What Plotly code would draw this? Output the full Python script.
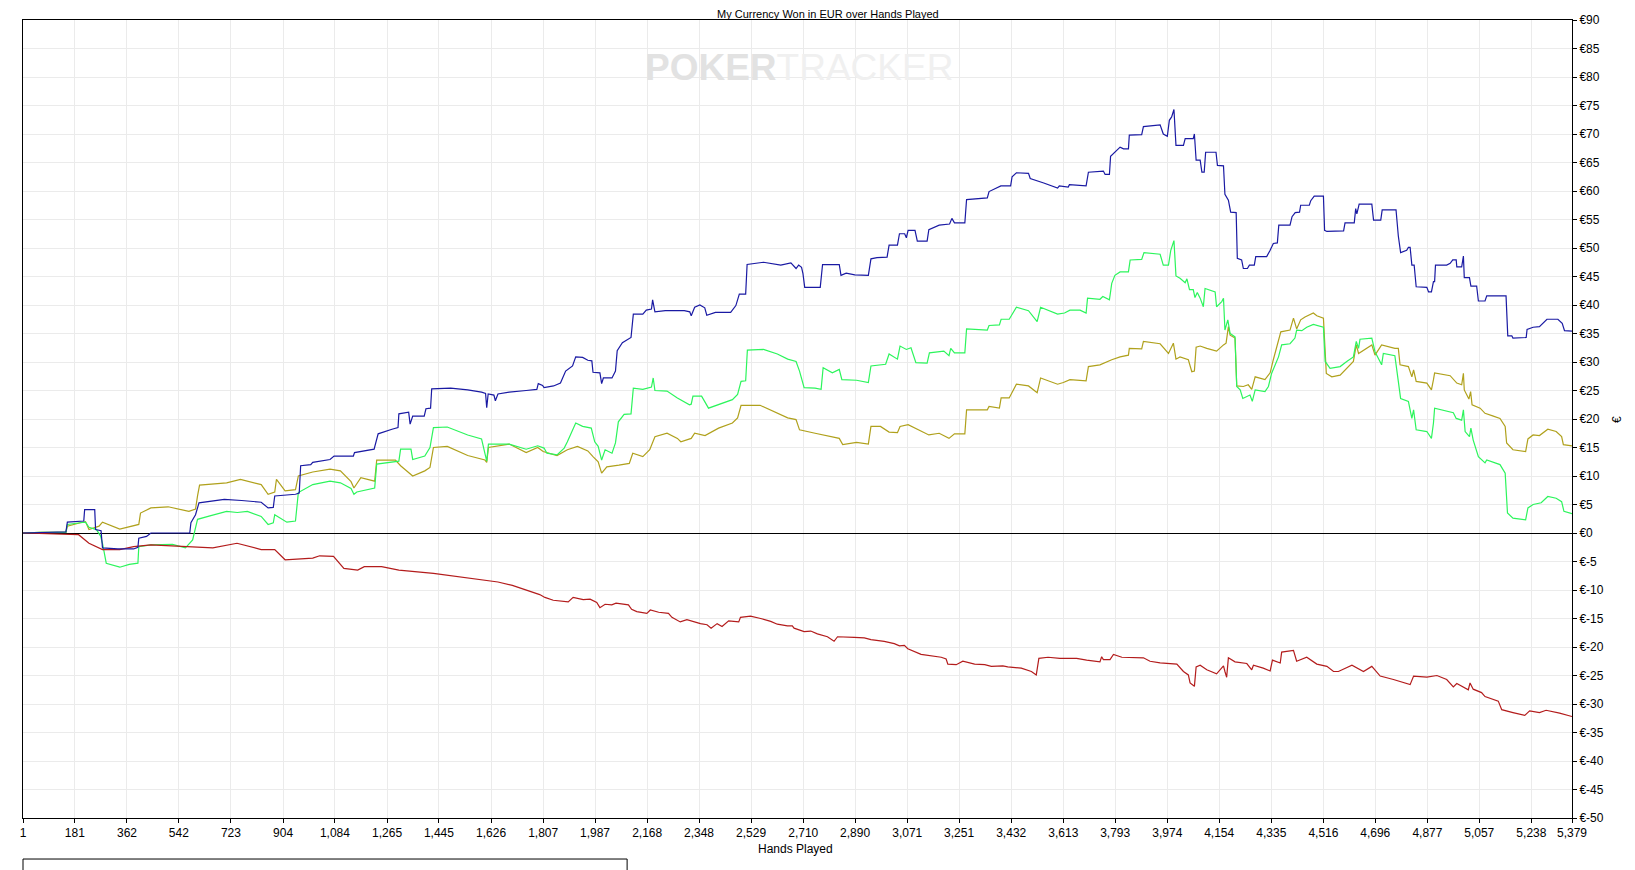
"""
PokerTracker style graph: currency won (EUR) over hands played
"""

import plotly.graph_objects as go

# x ticks (hands played)
x_ticks = [1, 181, 362, 542, 723, 904, 1084, 1265, 1445, 1626, 1807, 1987, 2168, 2348,
           2529, 2710, 2890, 3071, 3251, 3432, 3613, 3793, 3974, 4154, 4335, 4516, 4696,
           4877, 5057, 5238, 5379]
y_ticks = list(range(-50, 95, 5))
y_tick_labels = [f"€{v}" for v in y_ticks]

# net won (blue)
blue_hands = [1, 60, 150, 155, 185, 212, 215, 250, 253, 272, 277, 330, 385, 400, 403, 430, 445, 500, 580, 584, 600, 612, 650, 700, 760, 828, 852, 870, 875, 947, 960, 965, 1000, 1007, 1067, 1081, 1148, 1152, 1220, 1234, 1282, 1303, 1306, 1340, 1345, 1354, 1394, 1400, 1416, 1420, 1486, 1545, 1593, 1607, 1611, 1616, 1636, 1641, 1650, 1689, 1748, 1785, 1790, 1805, 1810, 1843, 1867, 1885, 1909, 1920, 1944, 1962, 1976, 1980, 2004, 2010, 2016, 2046, 2058, 2064, 2082, 2112, 2120, 2153, 2165, 2183, 2187, 2195, 2231, 2297, 2316, 2321, 2333, 2351, 2368, 2375, 2405, 2458, 2476, 2488, 2510, 2515, 2572, 2596, 2632, 2667, 2685, 2694, 2704, 2709, 2715, 2769, 2777, 2835, 2841, 2859, 2889, 2936, 2945, 2966, 3001, 3008, 3037, 3044, 3062, 3068, 3074, 3098, 3106, 3140, 3146, 3182, 3218, 3226, 3235, 3271, 3277, 3349, 3355, 3396, 3430, 3435, 3450, 3492, 3498, 3545, 3593, 3599, 3630, 3634, 3671, 3692, 3700, 3752, 3758, 3773, 3777, 3792, 3810, 3822, 3839, 3842, 3885, 3891, 3949, 3960, 3974, 3981, 3989, 3997, 4004, 4030, 4036, 4064, 4068, 4074, 4088, 4094, 4102, 4107, 4143, 4148, 4169, 4174, 4186, 4194, 4213, 4217, 4232, 4238, 4252, 4259, 4276, 4281, 4319, 4331, 4342, 4356, 4361, 4400, 4407, 4418, 4433, 4437, 4467, 4472, 4484, 4516, 4520, 4528, 4586, 4591, 4623, 4628, 4632, 4640, 4684, 4690, 4715, 4720, 4768, 4776, 4784, 4805, 4811, 4817, 4823, 4831, 4838, 4875, 4881, 4891, 4898, 4902, 4905, 4944, 4956, 4965, 4977, 4979, 4996, 5002, 5005, 5023, 5028, 5048, 5054, 5077, 5083, 5150, 5156, 5170, 5174, 5220, 5223, 5244, 5266, 5292, 5330, 5345, 5353, 5379]
blue_won = [0, 0.1, 0.2, 1.9, 2.0, 2.1, 4.1, 4.1, 0.6, 0.4, -2.6, -2.8, -2.8, -2.5, -0.9, -0.6, 0, 0, 0, 1.8, 3.2, 5.3, 5.6, 5.9, 5.7, 5.4, 4.4, 4.5, 6.5, 6.8, 7.0, 11.8, 12.0, 12.4, 12.9, 13.5, 13.5, 14.1, 14.7, 17.4, 18.2, 18.5, 20.9, 21.2, 19.1, 20.5, 20.5, 21.8, 21.9, 25.3, 25.4, 25.1, 24.7, 24.5, 22.0, 24.4, 24.2, 23.2, 24.4, 24.7, 25.0, 25.2, 26.2, 25.9, 25.5, 25.8, 26.3, 28.4, 29.3, 30.9, 30.8, 30.3, 30.2, 28.2, 28.1, 26.2, 27.2, 27.2, 28.4, 32.0, 33.4, 34.3, 38.4, 38.4, 39.1, 39.3, 40.9, 38.8, 39.0, 39.0, 38.8, 38.1, 39.6, 40.0, 39.5, 38.2, 38.7, 38.7, 39.9, 41.9, 41.9, 47.1, 47.5, 47.3, 47.0, 47.4, 46.4, 47.0, 46.6, 45.5, 43.1, 43.1, 47.1, 47.1, 45.2, 45.6, 45.3, 45.2, 48.1, 48.3, 48.4, 50.5, 50.5, 52.5, 52.5, 51.8, 53.1, 53.1, 51.2, 51.2, 53.2, 54.0, 54.2, 55.2, 54.4, 54.4, 58.5, 58.8, 59.9, 60.9, 60.9, 62.5, 63.2, 63.1, 62.2, 61.4, 60.5, 60.9, 60.7, 61.1, 61.0, 60.9, 63.3, 63.5, 62.9, 62.9, 66.1, 66.8, 67.7, 67.4, 67.4, 69.8, 69.9, 71.3, 71.6, 70.0, 69.6, 72.4, 73.0, 74.3, 68.0, 68.0, 69.2, 69.2, 70.0, 65.4, 65.4, 63.3, 63.3, 66.8, 66.8, 64.5, 64.4, 59.4, 58.4, 56.3, 56.2, 48.2, 47.9, 46.4, 46.4, 47.0, 47.0, 48.5, 48.5, 49.6, 50.8, 50.9, 54.0, 54.0, 55.5, 56.2, 56.3, 57.5, 57.5, 58.3, 59.1, 59.1, 53.1, 52.9, 53.0, 54.4, 54.4, 56.9, 56.0, 57.7, 57.7, 54.9, 54.9, 56.7, 56.7, 52.1, 49.2, 49.6, 50.1, 50.1, 47.0, 47.0, 43.2, 43.1, 42.3, 42.3, 44.1, 44.1, 47.0, 47.0, 47.3, 47.9, 47.9, 46.7, 46.7, 48.6, 44.8, 44.8, 43.3, 43.3, 40.7, 40.7, 41.6, 41.6, 34.6, 34.6, 34.2, 34.3, 35.7, 36.1, 36.2, 37.5, 37.5, 36.8, 35.5, 35.4]

# green
green_hands = [1, 60, 150, 155, 200, 218, 230, 256, 270, 277, 290, 337, 370, 400, 403, 445, 520, 565, 590, 607, 650, 708, 745, 780, 828, 852, 870, 875, 917, 947, 957, 1007, 1067, 1103, 1140, 1150, 1160, 1222, 1229, 1306, 1312, 1348, 1354, 1396, 1414, 1426, 1474, 1545, 1593, 1611, 1617, 1689, 1748, 1788, 1810, 1820, 1855, 1880, 1891, 1920, 1944, 1974, 1986, 1998, 2010, 2022, 2046, 2058, 2068, 2088, 2112, 2120, 2153, 2183, 2189, 2195, 2237, 2273, 2315, 2321, 2327, 2357, 2381, 2416, 2464, 2482, 2494, 2510, 2516, 2572, 2620, 2656, 2685, 2697, 2713, 2751, 2772, 2779, 2811, 2835, 2844, 2895, 2936, 2945, 2996, 3008, 3037, 3046, 3068, 3084, 3101, 3140, 3148, 3198, 3216, 3222, 3235, 3271, 3277, 3349, 3355, 3391, 3397, 3425, 3450, 3492, 3522, 3534, 3593, 3617, 3636, 3671, 3692, 3697, 3740, 3750, 3773, 3781, 3792, 3810, 3839, 3845, 3885, 3893, 3949, 3960, 3978, 3986, 3997, 4004, 4018, 4036, 4042, 4051, 4064, 4070, 4078, 4088, 4099, 4105, 4140, 4145, 4163, 4169, 4174, 4184, 4192, 4209, 4215, 4227, 4236, 4261, 4269, 4279, 4313, 4325, 4336, 4360, 4371, 4400, 4417, 4423, 4441, 4458, 4481, 4516, 4522, 4539, 4574, 4597, 4620, 4630, 4638, 4643, 4684, 4695, 4718, 4724, 4764, 4776, 4784, 4811, 4823, 4829, 4838, 4875, 4891, 4898, 4902, 4967, 4977, 4996, 5002, 5008, 5023, 5028, 5036, 5054, 5077, 5083, 5129, 5147, 5155, 5174, 5218, 5226, 5244, 5272, 5295, 5324, 5343, 5351, 5379]
green_won = [0, 0.1, 0.1, 1.5, 1.8, 1.9, 1.0, 0.6, -0.5, -1.8, -5.3, -6.0, -5.5, -5.3, -2.4, -2.1, -2.0, -2.6, -1.2, 2.4, 3.0, 3.8, 3.6, 3.8, 2.9, 1.5, 1.8, 3.2, 1.9, 2.1, 7.1, 8.5, 9.1, 8.8, 7.8, 6.8, 7.2, 7.9, 12.1, 12.6, 14.7, 14.7, 12.9, 13.5, 15.0, 18.5, 18.6, 17.2, 16.5, 12.6, 15.6, 15.6, 14.7, 15.3, 14.9, 14.0, 13.7, 14.9, 16.0, 19.3, 18.7, 18.4, 16.0, 15.2, 12.8, 14.6, 14.0, 15.8, 19.5, 20.8, 20.9, 25.4, 25.2, 25.6, 27.2, 25.0, 24.9, 23.7, 22.5, 22.6, 24.0, 24.0, 21.9, 22.5, 23.4, 24.3, 26.6, 26.7, 32.1, 32.2, 31.4, 30.5, 30.1, 28.4, 25.5, 25.4, 25.2, 29.0, 28.1, 28.7, 26.9, 26.8, 26.4, 29.3, 29.6, 31.4, 30.5, 32.8, 32.2, 32.5, 29.9, 29.8, 31.6, 31.9, 31.1, 32.4, 31.6, 31.6, 35.8, 35.6, 36.4, 36.5, 37.5, 37.5, 39.6, 39.0, 37.1, 39.6, 38.4, 38.6, 39.1, 39.1, 38.6, 41.2, 41.0, 41.5, 40.9, 43.8, 45.2, 45.8, 45.8, 47.9, 48.0, 49.2, 48.9, 47.0, 47.0, 49.6, 51.3, 45.1, 44.7, 43.9, 44.6, 42.7, 42.7, 41.3, 42.2, 41.2, 39.7, 42.9, 42.3, 39.7, 40.6, 41.2, 35.6, 37.4, 35.0, 34.4, 25.7, 25.1, 23.6, 24.2, 23.1, 25.1, 24.8, 25.7, 28.0, 30.9, 33.0, 33.2, 34.2, 35.6, 35.5, 36.1, 36.6, 36.1, 30.1, 28.9, 29.2, 30.1, 30.9, 33.6, 32.4, 34.0, 34.2, 31.8, 29.5, 31.5, 31.1, 26.6, 23.6, 23.1, 20.1, 21.6, 18.1, 17.8, 16.6, 19.3, 21.9, 21.1, 20.1, 19.8, 21.6, 17.8, 16.9, 18.4, 16.3, 13.4, 12.3, 12.8, 12.0, 10.5, 3.5, 2.6, 2.3, 4.4, 5.0, 5.3, 6.4, 6.1, 5.5, 3.8, 3.4]

# olive
olive_hands = [1, 60, 150, 155, 200, 218, 230, 265, 277, 337, 403, 409, 445, 505, 577, 600, 607, 614, 708, 756, 828, 852, 875, 881, 911, 947, 957, 1007, 1067, 1103, 1140, 1150, 1174, 1222, 1229, 1294, 1312, 1340, 1354, 1396, 1414, 1426, 1474, 1545, 1605, 1611, 1617, 1689, 1748, 1788, 1807, 1855, 1891, 1926, 1962, 1980, 1998, 2010, 2028, 2070, 2106, 2118, 2153, 2177, 2195, 2237, 2273, 2285, 2321, 2333, 2369, 2416, 2464, 2482, 2494, 2560, 2596, 2656, 2685, 2697, 2751, 2811, 2835, 2847, 2895, 2936, 2945, 2978, 3008, 3037, 3046, 3074, 3098, 3146, 3182, 3216, 3235, 3271, 3277, 3349, 3355, 3391, 3397, 3425, 3450, 3492, 3522, 3534, 3593, 3613, 3636, 3692, 3700, 3740, 3781, 3810, 3839, 3842, 3885, 3891, 3949, 3978, 3995, 4004, 4018, 4047, 4059, 4068, 4074, 4088, 4111, 4145, 4169, 4178, 4186, 4192, 4209, 4215, 4238, 4255, 4267, 4279, 4313, 4331, 4342, 4360, 4368, 4400, 4412, 4423, 4437, 4452, 4481, 4493, 4516, 4526, 4545, 4574, 4591, 4620, 4630, 4638, 4684, 4695, 4718, 4764, 4776, 4782, 4811, 4823, 4829, 4838, 4875, 4891, 4898, 4902, 4956, 4979, 4996, 5002, 5005, 5021, 5027, 5032, 5060, 5077, 5106, 5129, 5147, 5152, 5174, 5218, 5226, 5244, 5266, 5295, 5324, 5343, 5349, 5379]
olive_won = [0, 0.1, 0.1, 1.2, 1.8, 2.0, 0.6, 1.2, 1.9, 0.7, 1.5, 3.5, 4.4, 4.6, 3.8, 4.2, 6.5, 8.4, 8.8, 9.4, 8.5, 6.8, 7.2, 9.4, 7.4, 7.6, 10.0, 10.7, 11.2, 10.9, 9.0, 7.9, 9.7, 9.1, 12.8, 12.8, 11.8, 10.5, 10.0, 10.9, 11.5, 15.0, 15.2, 13.6, 12.8, 12.4, 15.0, 15.6, 14.1, 15.0, 14.3, 13.6, 14.6, 15.2, 14.4, 13.4, 12.5, 10.5, 11.6, 11.9, 12.2, 14.0, 13.4, 14.6, 16.9, 17.5, 16.6, 16.0, 16.6, 17.5, 17.1, 18.4, 19.3, 20.2, 22.4, 22.4, 21.6, 20.2, 19.9, 18.1, 17.5, 16.9, 16.6, 15.5, 15.9, 15.6, 18.7, 18.7, 17.7, 17.6, 18.7, 19.0, 18.4, 17.2, 17.5, 16.6, 17.4, 17.4, 21.6, 21.6, 22.2, 21.9, 23.7, 23.7, 26.1, 25.8, 24.6, 27.2, 26.1, 26.4, 26.9, 26.7, 29.2, 29.5, 30.4, 30.9, 31.2, 32.4, 32.3, 33.6, 33.2, 31.5, 33.3, 30.5, 30.9, 30.4, 28.3, 28.4, 32.6, 32.8, 32.4, 31.9, 33.0, 33.3, 36.2, 34.7, 34.2, 25.8, 25.7, 26.0, 25.2, 27.4, 26.9, 28.1, 30.4, 33.6, 35.3, 35.6, 37.7, 35.8, 37.4, 37.9, 38.6, 38.1, 37.7, 28.0, 27.4, 27.7, 28.6, 30.1, 33.0, 31.5, 33.0, 31.2, 33.0, 32.4, 32.4, 29.5, 29.2, 27.4, 28.6, 26.6, 26.3, 25.1, 26.9, 28.1, 27.6, 26.3, 26.0, 28.0, 25.1, 23.5, 24.8, 22.5, 21.9, 21.0, 20.5, 20.1, 18.7, 15.8, 14.6, 14.3, 16.5, 17.2, 17.1, 18.2, 17.8, 16.9, 15.5, 15.3]

# red
red_hands = [1, 60, 150, 194, 230, 277, 337, 385, 445, 553, 590, 660, 744, 828, 875, 911, 1007, 1031, 1079, 1115, 1163, 1186, 1246, 1306, 1426, 1545, 1593, 1650, 1700, 1750, 1795, 1813, 1842, 1894, 1911, 1946, 1970, 1993, 2004, 2022, 2045, 2060, 2103, 2114, 2132, 2167, 2179, 2208, 2242, 2254, 2283, 2306, 2353, 2376, 2390, 2411, 2428, 2451, 2486, 2492, 2527, 2562, 2597, 2620, 2655, 2672, 2678, 2713, 2736, 2759, 2794, 2817, 2829, 2887, 2922, 2945, 2991, 3026, 3044, 3061, 3073, 3119, 3189, 3206, 3212, 3241, 3264, 3305, 3340, 3363, 3403, 3420, 3467, 3502, 3519, 3528, 3560, 3601, 3659, 3694, 3740, 3746, 3752, 3775, 3787, 3816, 3856, 3891, 3914, 3949, 4007, 4030, 4047, 4053, 4068, 4074, 4088, 4111, 4145, 4157, 4169, 4174, 4180, 4186, 4209, 4250, 4267, 4273, 4307, 4331, 4339, 4366, 4371, 4412, 4423, 4458, 4493, 4528, 4551, 4568, 4597, 4615, 4655, 4684, 4713, 4759, 4817, 4829, 4875, 4910, 4944, 4967, 4979, 5019, 5025, 5036, 5065, 5077, 5123, 5135, 5174, 5215, 5232, 5266, 5289, 5336, 5379]
red_won = [0, -0.1, -0.2, -0.3, -1.8, -2.9, -2.9, -2.4, -2.1, -2.4, -2.4, -2.6, -1.8, -2.9, -2.9, -4.7, -4.4, -4.0, -4.1, -6.2, -6.5, -5.9, -5.9, -6.5, -7.1, -7.9, -8.1, -8.6, -9.2, -10.0, -10.8, -11.3, -11.8, -12.1, -11.3, -11.7, -11.6, -12.2, -13.1, -12.5, -12.6, -12.3, -12.6, -13.4, -13.8, -14.1, -13.5, -13.9, -14.1, -14.8, -15.6, -15.2, -15.9, -16.1, -16.7, -15.9, -16.4, -15.4, -15.6, -14.8, -14.6, -15.0, -15.5, -16.0, -16.3, -16.3, -16.7, -17.3, -17.2, -17.7, -18.2, -19.0, -18.2, -18.3, -18.4, -18.7, -19.0, -19.4, -19.8, -19.7, -20.3, -21.3, -21.8, -22.1, -23.0, -23.1, -22.5, -23.0, -23.1, -23.4, -23.3, -23.5, -23.7, -24.3, -24.9, -22.0, -21.8, -22.0, -22.0, -22.3, -22.6, -21.7, -22.2, -22.2, -21.3, -21.8, -21.9, -21.9, -22.5, -22.8, -23.0, -24.3, -24.9, -26.3, -26.9, -23.5, -23.2, -24.0, -24.7, -24.0, -23.3, -24.3, -25.3, -21.9, -22.6, -22.9, -24.0, -23.2, -23.7, -24.2, -22.3, -22.8, -20.9, -20.6, -22.5, -21.8, -23.0, -23.4, -24.3, -24.3, -23.7, -23.2, -24.3, -23.4, -25.1, -25.7, -26.6, -25.1, -25.3, -25.0, -25.7, -27.0, -26.4, -27.5, -26.3, -27.4, -28.0, -28.7, -29.5, -31.0, -31.5, -32.0, -31.2, -31.5, -31.1, -31.6, -32.2]

font = "Liberation Sans, Arial, sans-serif"

fig = go.Figure()
for hands, won, color in [
    (olive_hands, olive_won, "#b0a11c"),
    (green_hands, green_won, "#2cf55c"),
    (red_hands, red_won, "#b31c1c"),
    (blue_hands, blue_won, "#1a1aa3"),
]:
    fig.add_scatter(x=hands, y=won, mode="lines", line={"color": color, "width": 1.2},
                    showlegend=False, hoverinfo="skip")

axis_kwargs = {
    "automargin": False,
    "showgrid": True,
    "gridcolor": "#ebebeb",
    "gridwidth": 1,
    "showline": True,
    "linecolor": "black",
    "linewidth": 1,
    "mirror": True,
    "ticks": "outside",
    "ticklen": 4,
    "tickcolor": "black",
    "tickfont": {"family": font, "size": 12, "color": "black"},
}
fig.update_xaxes(
    range=[1, 5379],
    tickvals=x_ticks,
    ticktext=[f"{v:,}" for v in x_ticks],
    zeroline=False,
    **axis_kwargs,
)
fig.update_yaxes(
    range=[-50, 90],
    side="right",
    tickvals=y_ticks,
    ticktext=y_tick_labels,
    zeroline=True,
    zerolinecolor="black",
    zerolinewidth=1,
    **axis_kwargs,
)

# watermark
fig.add_annotation(
    xref="paper", yref="paper", x=0.501, y=0.94,
    text="<span style='color:#e2e2e2'><b>POKER</b></span><span style='color:#f0f0f0'>TRACKER</span>",
    font={"family": "Liberation Sans Narrow, Liberation Sans, sans-serif", "size": 37},
    showarrow=False, xanchor="center", yanchor="middle",
)
# title, squeezed into the thin strip above the plot
fig.add_annotation(
    xref="paper", yref="paper", x=0.52, y=1.0069,
    text="My Currency Won in EUR over Hands Played",
    font={"family": font, "size": 11, "color": "black"},
    showarrow=False, xanchor="center", yanchor="middle", borderpad=0,
)
fig.add_annotation(
    xref="paper", yref="paper", x=0.4985, y=-0.0388,
    text="Hands Played",
    font={"family": font, "size": 12, "color": "black"},
    showarrow=False, xanchor="center", yanchor="middle",
)
fig.add_annotation(
    xref="paper", yref="paper", x=1.029, y=0.5,
    text="€", textangle=-90,
    font={"family": font, "size": 12, "color": "black"},
    showarrow=False, xanchor="center", yanchor="middle",
)
# legend box, cut off by the bottom edge
fig.add_shape(
    type="rect", xref="paper", yref="paper",
    x0=0, x1=0.39, y0=-0.0514, y1=-0.09,
    line={"color": "black", "width": 1}, fillcolor="white",
)

# the page body adds an offset on the top/left, margins compensate for it
fig.update_layout(
    width=1635,
    height=870,
    margin={"l": 15, "r": 71, "t": 12, "b": 60},
    plot_bgcolor="white",
    paper_bgcolor="white",
    font={"family": font},
)

fig.write_html("out.html")
